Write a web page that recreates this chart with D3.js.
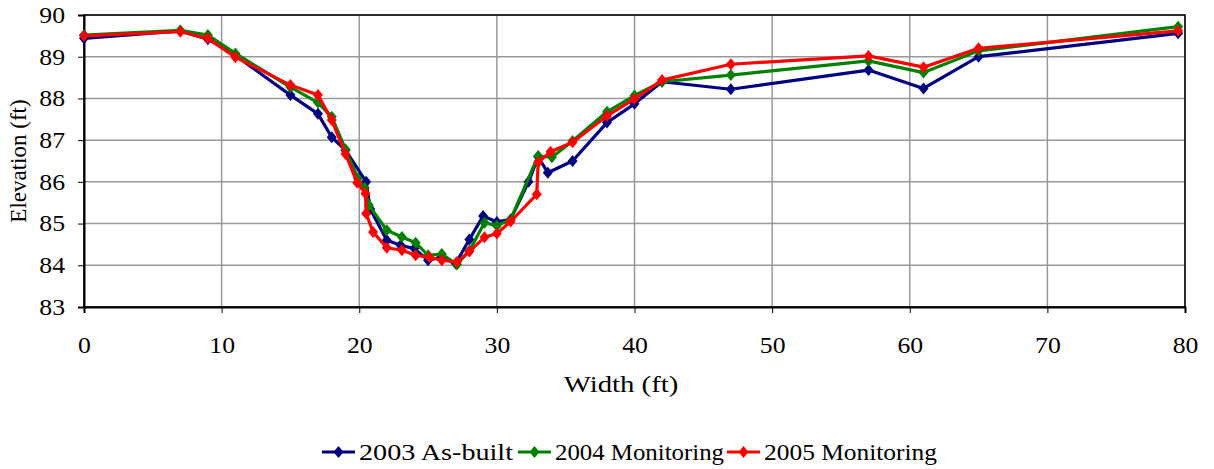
<!DOCTYPE html>
<html>
<head>
<meta charset="utf-8">
<script src="https://cdn.jsdelivr.net/npm/d3@7"></script>
<style>
  body { margin: 0; background: #fff; }
  svg text { font-family: "Liberation Serif", "Times New Roman", serif; fill: #000; }
</style>
</head>
<body>
<svg id="chart" width="1214" height="469"></svg>
<script>
// Cross-section survey data
const width2003 = [0, 7, 9, 11, 15, 17, 18, 19, 20.5, 20.8, 22, 23, 24, 25, 26, 27, 28, 29, 30, 31, 32.3, 33, 33.7, 35.5, 38, 40, 42, 47, 57, 61, 65, 79.5];
const elev2003  = [89.44, 89.62, 89.42, 89.03, 88.08, 87.63, 87.07, 86.76, 86.0, 85.35, 84.6, 84.48, 84.4, 84.12, 84.2, 84.04, 84.62, 85.18, 85.04, 85.1, 86.0, 86.6, 86.22, 86.5, 87.42, 87.87, 88.4, 88.22, 88.68, 88.24, 89.0, 89.56];

const width2004 = [0, 7, 9, 11, 15, 17, 18, 19, 19.9, 20.4, 20.7, 22, 23.1, 24.1, 25, 26, 27.1, 28, 29.1, 30, 31, 33, 34, 35.5, 38, 40, 42, 47, 57, 61, 65, 79.5];
const elev2004  = [89.52, 89.63, 89.52, 89.08, 88.27, 87.9, 87.56, 86.78, 86.08, 85.85, 85.44, 84.84, 84.68, 84.54, 84.24, 84.27, 84.02, 84.35, 85.02, 84.95, 85.1, 86.62, 86.59, 86.98, 87.68, 88.07, 88.4, 88.56, 88.9, 88.62, 89.14, 89.72];

const width2005 = [0, 7, 9, 11, 15, 17, 18, 19, 19.85, 20.45, 20.5, 21, 22, 23.1, 24.1, 25.1, 26, 27.1, 28, 29.1, 30, 31, 32.9, 33, 33.9, 35.5, 38, 40, 42, 47, 57, 61, 65, 79.5];
const elev2005  = [89.5, 89.6, 89.44, 88.99, 88.32, 88.08, 87.48, 86.67, 85.98, 85.72, 85.24, 84.8, 84.42, 84.36, 84.24, 84.19, 84.12, 84.08, 84.33, 84.67, 84.76, 85.05, 85.7, 86.47, 86.72, 86.95, 87.58, 87.99, 88.44, 88.82, 89.02, 88.75, 89.2, 89.62];

const seriesNames = ["2003 As-built", "2004 Monitoring", "2005 Monitoring"];
const seriesColors = ["#000080", "#008000", "#ff0000"];
const xTicks = [0, 10, 20, 30, 40, 50, 60, 70, 80];
const yTicks = [83, 84, 85, 86, 87, 88, 89, 90];

const series = [
  { name: seriesNames[0], color: seriesColors[0], pts: width2003.map((w, i) => [w, elev2003[i]]) },
  { name: seriesNames[1], color: seriesColors[1], pts: width2004.map((w, i) => [w, elev2004[i]]) },
  { name: seriesNames[2], color: seriesColors[2], pts: width2005.map((w, i) => [w, elev2005[i]]) }
];

const svg = d3.select("#chart");
const m = { left: 84, top: 15, right: 29, bottom: 162 };
const W = 1214 - m.left - m.right;
const H = 469 - m.top - m.bottom;
const FS = 23;       // font size
const SX_TICK = 1.12; // the original picture is a bit stretched sideways
const SX_TITLE = 1.25;

const x = d3.scaleLinear().domain([0, 80]).range([0, W]);
const y = d3.scaleLinear().domain([83, 90]).range([H, 0]);

const g = svg.append("g").attr("transform", `translate(${m.left},${m.top})`);

// gridlines
g.append("g").selectAll("line").data(yTicks).join("line")
  .attr("x1", 0).attr("x2", W)
  .attr("y1", d => y(d)).attr("y2", d => y(d))
  .attr("stroke", "#999").attr("stroke-width", 1.5);
g.append("g").selectAll("line").data(xTicks).join("line")
  .attr("y1", 0).attr("y2", H)
  .attr("x1", d => x(d)).attr("x2", d => x(d))
  .attr("stroke", "#999").attr("stroke-width", 1.5);

// frame
g.append("rect").attr("width", W).attr("height", H)
  .attr("fill", "none").attr("stroke", "#000").attr("stroke-width", 1.5);

// axes
const xAxis = g.append("g").attr("transform", `translate(0,${H})`)
  .call(d3.axisBottom(x).tickValues(xTicks).tickFormat(d3.format("d")).tickSize(6).tickPadding(24));
const yAxis = g.append("g")
  .call(d3.axisLeft(y).tickValues(yTicks).tickFormat(d3.format("d")).tickSize(6).tickPadding(10));
[xAxis, yAxis].forEach(a => {
  a.select(".domain").attr("stroke", "#000").attr("stroke-width", 2);
  a.selectAll(".tick line").attr("stroke", "#000");
  a.selectAll("text").attr("font-size", FS).attr("font-family", "Liberation Serif, serif")
    .attr("transform", `scale(${SX_TICK},1)`);
});
yAxis.selectAll(".tick text").attr("x", -19 / SX_TICK);

// lines and diamond markers
const line = d3.line().x(d => x(d[0])).y(d => y(d[1]));
const diamond = "M0,-6L5,0L0,6L-5,0Z";
series.forEach(s => {
  g.append("path").datum(s.pts).attr("d", line)
    .attr("fill", "none").attr("stroke", s.color).attr("stroke-width", 3.2)
    .attr("stroke-linejoin", "round");
  g.append("g").selectAll("path").data(s.pts).join("path")
    .attr("d", diamond)
    .attr("transform", d => `translate(${x(d[0])},${y(d[1])})`)
    .attr("fill", s.color);
});

// axis titles
svg.append("text").attr("transform", `translate(621,392) scale(${SX_TITLE},1)`)
  .attr("text-anchor", "middle").attr("font-size", FS).text("Width (ft)");
svg.append("text").attr("transform", `translate(26,${m.top + H / 2}) rotate(-90)`)
  .attr("text-anchor", "middle").attr("font-size", FS).text("Elevation (ft)");

// legend
const legendX = [322, 518, 727];
const legendTextW = [154, 169, 173];
const lg = svg.append("g");
series.forEach((s, i) => {
  const lx = legendX[i];
  lg.append("line").attr("x1", lx).attr("x2", lx + 33).attr("y1", 452).attr("y2", 452)
    .attr("stroke", s.color).attr("stroke-width", 3.2);
  lg.append("path").attr("d", diamond).attr("transform", `translate(${lx + 16.5},452)`).attr("fill", s.color);
  lg.append("text").attr("x", lx + 37).attr("y", 460)
    .attr("font-size", FS)
    .attr("textLength", legendTextW[i]).attr("lengthAdjust", "spacingAndGlyphs")
    .text(s.name);
});
</script>
</body>
</html>
